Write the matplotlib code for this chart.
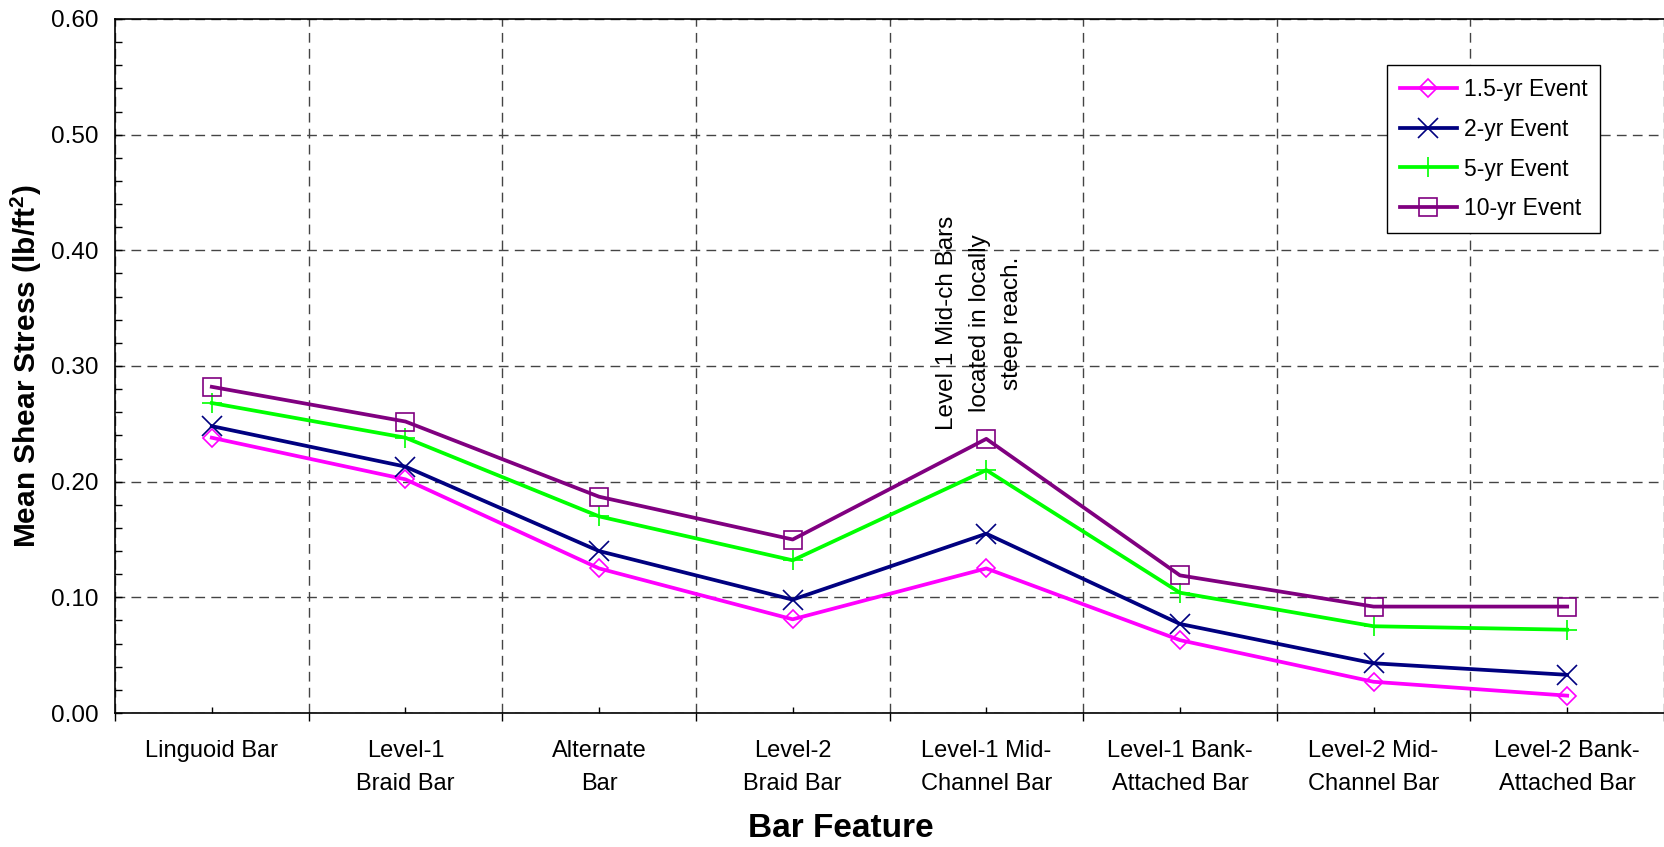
import matplotlib
matplotlib.use("Agg")
import matplotlib.pyplot as plt
from matplotlib.ticker import MultipleLocator, FixedLocator, NullFormatter, FixedFormatter
import numpy as np

plt.rcParams['font.family'] = ['Liberation Sans', 'DejaVu Sans']
plt.rcParams['mathtext.fontset'] = 'custom'
plt.rcParams['mathtext.rm'] = 'Liberation Sans'
plt.rcParams['mathtext.bf'] = 'Liberation Sans:bold'

# Bar feature categories along the x axis
categories = [
    "Linguoid Bar",
    "Level-1\nBraid Bar",
    "Alternate\nBar",
    "Level-2\nBraid Bar",
    "Level-1 Mid-\nChannel Bar",
    "Level-1 Bank-\nAttached Bar",
    "Level-2 Mid-\nChannel Bar",
    "Level-2 Bank-\nAttached Bar",
]

# Mean shear stress (lb/ft^2) for each flow event
event_1_5yr = [0.238, 0.202, 0.125, 0.081, 0.125, 0.063, 0.027, 0.015]
event_2yr = [0.248, 0.213, 0.140, 0.098, 0.155, 0.077, 0.043, 0.033]
event_5yr = [0.268, 0.238, 0.170, 0.132, 0.210, 0.104, 0.075, 0.072]
event_10yr = [0.282, 0.252, 0.187, 0.150, 0.237, 0.119, 0.092, 0.092]

series_labels = ["1.5-yr Event", "2-yr Event", "5-yr Event", "10-yr Event"]

W, H = 1664, 847
fig = plt.figure(figsize=(W / 100, H / 100), dpi=100)
ax = fig.add_axes([115 / W, 1 - 713 / H, (W - 115) / W, (713 - 19) / H])

x = np.arange(len(categories))
styles = [
    dict(color="#FF00FF", marker="D", ms=9.5, mew=1.2),
    dict(color="#000080", marker="x", ms=14, mew=1.2),
    dict(color="#00FF00", marker="+", ms=15, mew=1.2),
    dict(color="#800080", marker="s", ms=12.5, mew=1.2),
]
for vals, lab, st in zip([event_1_5yr, event_2yr, event_5yr, event_10yr], series_labels, styles):
    ax.plot(x, vals, color=st["color"], lw=2.7, marker=st["marker"], ms=st["ms"],
            mew=st["mew"], mfc="none", mec=st["color"], label=lab, zorder=3)

ax.set_xlim(-0.5, len(categories) - 0.5)
ax.set_ylim(0, 0.6)

# y axis: major every 0.10, minor every 0.02, ticks inward
ax.yaxis.set_major_locator(MultipleLocator(0.1))
ax.yaxis.set_minor_locator(MultipleLocator(0.02))
ax.yaxis.set_major_formatter(plt.FuncFormatter(lambda v, p: f"{v:.2f}"))
ax.tick_params(axis="y", which="both", direction="in", length=5, width=1, labelsize=17.5, pad=12)

# x axis: boundaries as major ticks (with grid), categories as labelled minor ticks
ax.xaxis.set_major_locator(FixedLocator(np.arange(-0.5, len(categories), 1.0)))
ax.xaxis.set_major_formatter(NullFormatter())
ax.xaxis.set_minor_locator(FixedLocator(x))
ax.xaxis.set_minor_formatter(FixedFormatter(categories))
ax.tick_params(axis="x", which="major", direction="out", length=6, width=1)
ax.tick_params(axis="x", which="minor", direction="in", length=4, width=1, labelsize=17, pad=19.5)
for t in ax.xaxis.get_minorticklabels():
    t.set_linespacing(1.65)

ax.grid(True, which="major", axis="both", color="#444444", linestyle=(0, (7, 4.5)), lw=1.0)

for side in ["left", "bottom", "top"]:
    ax.spines[side].set_linewidth(1.2)
    ax.spines[side].set_color("black")
ax.spines["right"].set_visible(False)

# Note on the Level-1 Mid-Channel bars
ax.text(3.965, 0.337, "Level 1 Mid-ch Bars\nlocated in locally\nsteep reach.",
        rotation=90, ha="center", va="center", multialignment="center",
        fontsize=17.5, linespacing=1.6, zorder=4)

leg = ax.legend(loc="upper left", bbox_to_anchor=(1387 / W, 1 - 65 / H),
                bbox_transform=fig.transFigure, borderaxespad=0, fontsize=16.5,
                frameon=True, fancybox=False, framealpha=1, edgecolor="black",
                handlelength=2.5, handletextpad=0.3, labelspacing=0.74,
                borderpad=0.55, numpoints=1)
leg.get_frame().set_linewidth(1.0)

fig.text(26 / W, 1 - 366 / H, r"Mean Shear Stress (lb/ft$^{\mathbf{2}}$)", rotation=90,
         ha="center", va="center", fontsize=21.5, fontweight="bold")
fig.text(841 / W, 1 - 828 / H, "Bar Feature", ha="center", va="center",
         fontsize=24, fontweight="bold")

fig.savefig("out.png", dpi=100)
